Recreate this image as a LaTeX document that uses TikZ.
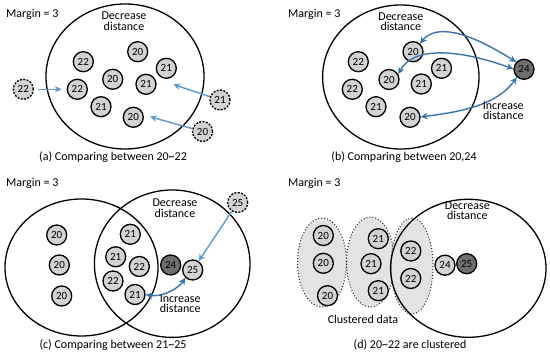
\documentclass[tikz,border=0pt]{standalone}
\usepackage{fontspec}
\setmainfont{Carlito}
\usetikzlibrary{arrows.meta}
\definecolor{ngray}{HTML}{D3D3D3}
\definecolor{dgray}{HTML}{6E6E6E}
\definecolor{egray}{HTML}{E3E3E3}
\definecolor{lblue}{HTML}{5B9BD5}
\definecolor{dblue}{HTML}{3C74AD}
\tikzset{
  num/.style={circle, draw=black, line width=1.3pt, fill=ngray, minimum size=20pt, inner sep=0pt, font=\fontsize{11}{11}\selectfont},
  numd/.style={num, dash pattern=on 2pt off 1.4pt},
  numk/.style={num, fill=dgray},
  bigc/.style={draw=black, line width=1.3pt},
  clus/.style={draw=black!85, fill=egray, line width=1pt, dotted},
  lbl/.style={font=\fontsize{12}{10.5}\selectfont, align=center, inner sep=0pt},
  txt/.style={font=\fontsize{12}{12}\selectfont, inner sep=0pt},
  larr/.style={draw=lblue, line width=1.4pt, -{Stealth[length=7pt,width=6.5pt]}},
  darr/.style={draw=dblue, line width=1.4pt, {Stealth[length=7pt,width=6.5pt]}-{Stealth[length=7pt,width=6.5pt]}},
}
\begin{document}
\begin{tikzpicture}[x=1pt,y=-1pt]
\useasboundingbox (0,0) rectangle (550,355);
\fill[white] (0,0) rectangle (550,355);

% ---------------- (a) ----------------
\draw[bigc] (125,76.5) ellipse [x radius=79, y radius=72.5];
\node[txt, anchor=base west] (amargin) at (6,17.3) {Margin = 3};
\node[lbl] (adec) at (124,21.4) {Decrease\\distance};
\node[num] (a1) at (137.7,51.7) {20};
\node[num] (a2) at (83.3,61.7) {22};
\node[num] (a3) at (166.3,68.3) {21};
\node[num] (a4) at (112.7,79.3) {20};
\node[num] (a5) at (146,84.3) {21};
\node[num] (a6) at (77.3,89.3) {22};
\node[num] (a7) at (101,106.7) {21};
\node[num] (a8) at (133.3,117.3) {20};
\node[numd] (ad1) at (23.3,89.3) {22};
\node[numd] (ad2) at (220,100) {21};
\node[numd] (ad3) at (202.5,131.5) {20};
\coordinate (aT1) at (61.7,89.3);
\coordinate (aT2) at (173.3,84.5);
\coordinate (aT3) at (150,116.7);
\draw[larr, shorten <=4pt] (ad1) -- (aT1);
\draw[larr] (ad2) -- (aT2);
\draw[larr] (ad3) -- (aT3);
\node[txt, anchor=base] (acap) at (113,161) {(a) Comparing between 20\textasciitilde22};

% ---------------- (b) ----------------
\draw[bigc] (400.8,77) ellipse [x radius=78.2, y radius=72];
\node[txt, anchor=base west] (bmargin) at (288,17.3) {Margin = 3};
\node[lbl] (bdec) at (400.8,21.7) {Decrease\\distance};
\node[num] (b1) at (413,51.7) {20};
\node[num] (b2) at (358.3,61.7) {22};
\node[num] (b3) at (441.5,68.3) {21};
\node[num] (b4) at (389,79.5) {20};
\node[num] (b5) at (421.3,84) {21};
\node[num] (b6) at (352.3,89.3) {22};
\node[num] (b7) at (376,106.7) {21};
\node[num] (b8) at (410,117.3) {20};
\node[numk] (b24) at (524,69.3) {24};
\draw[darr] (b1.50) .. controls +(20,-24) and +(-35,-22) .. (b24.137);
\draw[darr] (b4.30) .. controls +(15,-28) and +(-55,-20) .. (b24.178);
\draw[darr] (b8.2) .. controls +(40,-5) and +(-20,28) .. (b24.228);
\node[lbl] (binc) at (503.3,110.8) {Increase\\distance};
\node[txt, anchor=base] (bcap) at (404,161) {(b) Comparing between 20,24};

% ---------------- (c) ----------------
\draw[bigc] (81.5,267.5) ellipse [x radius=76.5, y radius=68.5];
\draw[bigc] (172.2,263.7) ellipse [x radius=77.8, y radius=73.7];
\node[txt, anchor=base west] (cmargin) at (6,187) {Margin = 3};
\node[lbl] (cdec) at (175,208.3) {Decrease\\distance};
\node[num] (c1) at (56.7,235) {20};
\node[num] (c2) at (59.3,265) {20};
\node[num] (c3) at (61.7,296) {20};
\node[num] (c4) at (130.3,234.3) {21};
\node[num] (c5) at (115.7,256.8) {21};
\node[num] (c6) at (139.3,266.5) {22};
\node[num] (c7) at (113,281) {22};
\node[num] (c8) at (135,294.5) {21};
\node[numk] (c24) at (170.7,265) {24};
\node[num] (c25) at (192.7,270) {25};
\node[numd] (c25d) at (237.7,202.5) {25};
\draw[larr] (c25d) -- (c25);
\draw[darr] (c8.east) .. controls +(15,3) and +(-8,12) .. (c25.227);
\node[lbl] (cinc) at (180.2,303.7) {Increase\\distance};
\node[txt, anchor=base] (ccap) at (113,349) {(c) Comparing between 21\textasciitilde25};

% ---------------- (d) ----------------
\draw[clus] (322,262.5) ellipse [x radius=24.5, y radius=44.5];
\draw[clus] (370.5,262) ellipse [x radius=24, y radius=45];
\draw[clus] (412,266) ellipse [x radius=21, y radius=48];
\draw[bigc] (468.3,268.3) ellipse [x radius=77.7, y radius=69];
\node[txt, anchor=base west] (dmargin) at (288,187) {Margin = 3};
\node[lbl] (ddec) at (467.3,210.5) {Decrease\\distance};
\node[num] (d1) at (323.3,235.5) {20};
\node[num] (d2) at (323.3,263.3) {20};
\node[num] (d3) at (327.5,295.7) {20};
\node[num] (d4) at (378.3,238.7) {21};
\node[num] (d5) at (371,263.7) {21};
\node[num] (d6) at (378.3,290.7) {21};
\node[num] (d7) at (410.8,251) {22};
\node[num] (d8) at (410.8,278.5) {22};
\node[num] (d24) at (445,265.2) {24};
\node[numk] (d25) at (466.7,263.7) {25};
\node[txt] (dclu) at (363,319.5) {Clustered data};
\node[txt, anchor=base] (dcap) at (410,349) {(d) 20\textasciitilde22 are clustered};
\end{tikzpicture}
\end{document}
